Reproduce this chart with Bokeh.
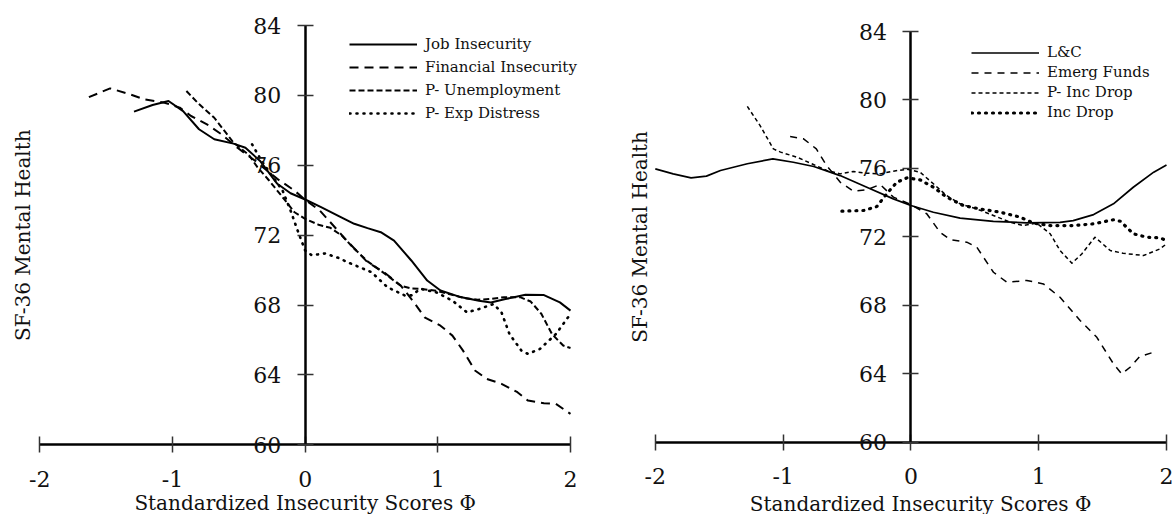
import math
from bokeh.plotting import figure
from bokeh.models import LinearAxis, FixedTicker, Range1d, Legend, LegendItem
from bokeh.core.properties import value
from bokeh.embed import file_html
from bokeh.resources import INLINE

FONT = "DejaVu Serif"
TXT = "#111111"

x_ticks = [-2, -1, 0, 1, 2]
x_tick_labels = ["-2", "-1", "0", "1", "2"]
y_ticks = [60, 64, 68, 72, 76, 80, 84]
y_tick_labels = ["60", "64", "68", "72", "76", "80", "84"]
x_title = "Standardized Insecurity Scores Φ"
y_title = "SF-36 Mental Health"

# ---- left panel ----
left_names = ["Job Insecurity", "Financial Insecurity", "P- Unemployment", "P- Exp Distress"]
job_x = [-1.29, -1.15, -1.03, -0.92, -0.80, -0.685, -0.54, -0.45, -0.34, -0.21, -0.11, 0.0, 0.12, 0.25,
         0.37, 0.47, 0.57, 0.67, 0.80, 0.92, 1.02, 1.16, 1.31, 1.40, 1.51, 1.66, 1.80, 1.92, 2.0]
job_y = [79.07, 79.45, 79.68, 79.1, 78.06, 77.49, 77.24, 77.0, 76.25, 74.94, 74.4, 74.04, 73.6, 73.1,
         72.65, 72.4, 72.17, 71.69, 70.55, 69.4, 68.83, 68.48, 68.25, 68.15, 68.34, 68.59, 68.57, 68.15, 67.68]
fin_x = [-1.63, -1.47, -1.32, -1.21, -1.06, -0.945, -0.86, -0.74, -0.63, -0.51, -0.38, -0.21, -0.08, 0.0,
         0.11, 0.19, 0.30, 0.47, 0.59, 0.72, 0.82, 0.90, 1.02, 1.11, 1.19, 1.28, 1.37, 1.48, 1.60, 1.68,
         1.80, 1.89, 2.0]
fin_y = [79.9, 80.4, 80.06, 79.77, 79.58, 79.3, 78.82, 78.34, 77.77, 77.0, 76.27, 75.22, 74.55, 74.02,
         73.41, 72.74, 71.8, 70.45, 69.9, 69.12, 68.16, 67.3, 66.82, 66.25, 65.39, 64.25, 63.77, 63.49,
         63.01, 62.53, 62.38, 62.34, 61.77]
unemp_x = [-0.895, -0.80, -0.685, -0.54, -0.425, -0.36, -0.28, -0.18, -0.08, 0.0, 0.10, 0.19, 0.28, 0.36,
           0.47, 0.60, 0.72, 0.80, 0.87, 1.0, 1.1, 1.2, 1.3, 1.4, 1.5, 1.62, 1.70, 1.78, 1.86, 1.945, 2.0]
unemp_y = [80.25, 79.5, 78.72, 77.3, 76.6, 75.89, 75.2, 74.27, 73.31, 72.93, 72.6, 72.42, 71.95, 71.3,
           70.5, 69.8, 69.1, 68.95, 68.93, 68.8, 68.6, 68.4, 68.3, 68.35, 68.45, 68.45, 68.2, 67.5, 66.34,
           65.68, 65.54]
exp_x = [-0.40, -0.33, -0.25, -0.17, -0.11, -0.057, 0.0, 0.05, 0.15, 0.25, 0.32, 0.50, 0.62, 0.75, 0.80,
         0.87, 0.99, 1.11, 1.22, 1.31, 1.42, 1.48, 1.54, 1.63, 1.68, 1.77, 1.89, 2.0]
exp_y = [77.2, 76.27, 75.4, 74.55, 73.41, 72.27, 71.12, 70.85, 70.95, 70.7, 70.45, 69.88, 69.02, 68.55,
         68.55, 68.93, 68.72, 68.25, 67.58, 67.77, 68.06, 67.58, 66.34, 65.39, 65.2, 65.49, 66.34, 67.49]

# ---- right panel ----
right_names = ["L&C", "Emerg Funds", "P- Inc Drop", "Inc Drop"]
lc_x = [-2.0, -1.86, -1.72, -1.60, -1.49, -1.28, -1.08, -0.92, -0.76, -0.554, -0.345, -0.137, 0.0, 0.176,
        0.385, 0.645, 0.906, 1.167, 1.27, 1.43, 1.585, 1.74, 1.9, 2.0]
lc_y = [75.97, 75.68, 75.45, 75.55, 75.88, 76.27, 76.56, 76.36, 76.11, 75.58, 74.9, 74.22, 73.83, 73.44,
        73.09, 72.9, 72.82, 72.85, 72.95, 73.3, 73.93, 74.9, 75.78, 76.2]
emerg_x = [-0.945, -0.84, -0.74, -0.66, -0.554, -0.45, -0.345, -0.24, -0.137, 0.0, 0.124, 0.228, 0.307,
           0.437, 0.516, 0.646, 0.75, 0.907, 1.037, 1.167, 1.324, 1.455, 1.585, 1.65, 1.715, 1.79, 1.9]
emerg_y = [77.86, 77.73, 77.14, 76.17, 75.2, 74.67, 74.75, 75.06, 74.32, 73.89, 73.35, 72.27, 71.84,
           71.69, 71.39, 69.93, 69.35, 69.45, 69.25, 68.47, 67.11, 66.13, 64.58, 63.99, 64.38, 65.0, 65.26]
pinc_x = [-1.28, -1.18, -1.076, -1.02, -0.893, -0.763, -0.658, -0.554, -0.45, -0.345, -0.24, -0.137, -0.03,
          0.072, 0.176, 0.28, 0.385, 0.516, 0.645, 0.776, 0.88, 0.985, 1.09, 1.167, 1.26, 1.337, 1.44,
          1.56, 1.66, 1.82, 1.95, 2.0]
pinc_y = [79.62, 78.5, 77.14, 76.95, 76.66, 76.23, 75.88, 75.68, 75.82, 75.72, 75.68, 75.84, 75.95,
          75.78, 75.1, 74.41, 73.93, 73.63, 73.25, 72.86, 72.66, 72.8, 72.18, 71.2, 70.46, 71.0, 71.98,
          71.2, 71.04, 70.91, 71.3, 71.59]
inc_x = [-0.54, -0.37, -0.267, -0.19, -0.11, -0.03, 0.072, 0.176, 0.28, 0.41, 0.54, 0.7, 0.855, 0.96,
         1.09, 1.27, 1.43, 1.585, 1.64, 1.74, 1.845, 1.95, 2.0]
inc_y = [73.5, 73.54, 73.77, 74.51, 75.19, 75.45, 75.33, 74.9, 74.32, 73.83, 73.63, 73.44, 73.15, 72.8,
         72.66, 72.66, 72.76, 73.0, 72.91, 72.18, 71.98, 71.94, 71.78]

# ---- layout (canvas pixels) ----
W, H = 1176, 514
# pixel positions of x=-2 / x=2 and y=84 / y=60 for each panel
L_PX = (39.3, 570.0, 25.0, 444.3)
R_PX = (654.8, 1166.0, 31.0, 441.7)


def ranges(px):
    xa, xb, y84, y60 = px
    sx = (xb - xa) / 4.0
    x0 = -2 - xa / sx
    sy = (y60 - y84) / 24.0
    ytop = 84 + y84 / sy
    return Range1d(x0, x0 + W / sx), Range1d(ytop - H / sy, ytop), sx, sy


lxr, lyr, lsx, lsy = ranges(L_PX)
rxr, ryr, rsx, rsy = ranges(R_PX)

p = figure(width=W, height=H, x_range=lxr, y_range=lyr,
           output_backend="svg", toolbar_location=None,
           min_border_left=0, min_border_right=0, min_border_top=0, min_border_bottom=0,
           x_axis_location=None, y_axis_location=None)
p.extra_x_ranges = {"rx": rxr}
p.extra_y_ranges = {"ry": ryr}
p.grid.visible = False
p.outline_line_color = None
p.background_fill_color = "white"
p.border_fill_color = "white"


def style_axis(ax, standoff):
    ax.minor_tick_line_color = None
    ax.major_tick_in = 8
    ax.major_tick_out = 8
    ax.major_tick_line_width = 1.5
    ax.major_tick_line_color = "#333333"
    ax.axis_line_width = 2.5
    ax.axis_line_color = "black"
    ax.major_label_text_font = FONT
    ax.major_label_text_font_size = "22px"
    ax.major_label_text_color = TXT
    ax.major_label_standoff = standoff


def add_panel_axes(xname, yname):
    kw = {}
    if xname:
        kw = dict(x_range_name=xname, y_range_name=yname)
    xa = LinearAxis(fixed_location=60, bounds=(-2, 2), ticker=FixedTicker(ticks=x_ticks), **kw)
    xa.major_label_overrides = dict(zip(x_ticks, x_tick_labels))
    style_axis(xa, 18)
    p.add_layout(xa, "below")
    ya = LinearAxis(fixed_location=0, bounds=(60, 84), ticker=FixedTicker(ticks=y_ticks), **kw)
    ya.major_label_overrides = dict(zip(y_ticks, y_tick_labels))
    style_axis(ya, 16)
    p.add_layout(ya, "left")


add_panel_axes(None, None)
add_panel_axes("rx", "ry")


def add_titles(sx, sy, xname, yname, xshift_px, xbase_px, ybase_px):
    kw = {}
    if xname:
        kw = dict(x_range_name=xname, y_range_name=yname)
    p.text(x=[0 + xshift_px / sx], y=[60 - xbase_px / sy], text=[x_title],
           text_font=value(FONT), text_font_size="20px", text_color=TXT,
           text_align="center", text_baseline="alphabetic", **kw)
    p.text(x=[-2 - ybase_px / sx], y=[72], text=[y_title], angle=math.pi / 2,
           text_font=value(FONT), text_font_size="20px", text_color=TXT,
           text_align="center", text_baseline="alphabetic", **kw)


add_titles(lsx, lsy, None, None, 0, 58.5, 16.6)
add_titles(rsx, rsy, "rx", "ry", 9.7, 61.3, 15.8)

left_series = [
    (job_x, job_y, "solid", 2, "butt"),
    (fin_x, fin_y, "9 6", 2, "butt"),
    (unemp_x, unemp_y, "6 3", 2, "butt"),
    (exp_x, exp_y, "1 6", 2.6, "round"),
]
right_series = [
    (lc_x, lc_y, "solid", 1.7, "butt"),
    (emerg_x, emerg_y, "7 6", 1.5, "butt"),
    (pinc_x, pinc_y, "4 3", 1.5, "butt"),
    (inc_x, inc_y, "1 6", 3.2, "round"),
]


def add_lines(series, names, xname, yname, loc, gh, sp):
    kw = {}
    if xname:
        kw = dict(x_range_name=xname, y_range_name=yname)
    items = []
    for (xs, ys, dash, width, cap), name in zip(series, names):
        r = p.line(xs, ys, line_color="black", line_width=width, line_dash=dash,
                   line_cap=cap, line_join="round", **kw)
        items.append(LegendItem(label=name, renderers=[r]))
    lg = Legend(items=items, location=loc)
    lg.border_line_color = None
    lg.background_fill_alpha = 0
    lg.padding = 0
    lg.margin = 0
    lg.spacing = sp
    lg.glyph_width = 68
    lg.glyph_height = gh
    lg.label_height = gh
    lg.label_standoff = 8
    lg.label_text_font = FONT
    lg.label_text_font_size = "15px"
    lg.label_text_color = TXT
    lg.label_text_baseline = "middle"
    p.add_layout(lg)


add_lines(left_series, left_names, None, None, (349, 391), 20, 3)
add_lines(right_series, right_names, "rx", "ry", (971, 393), 17, 2)

open("out.html", "w").write(file_html(p, INLINE))
